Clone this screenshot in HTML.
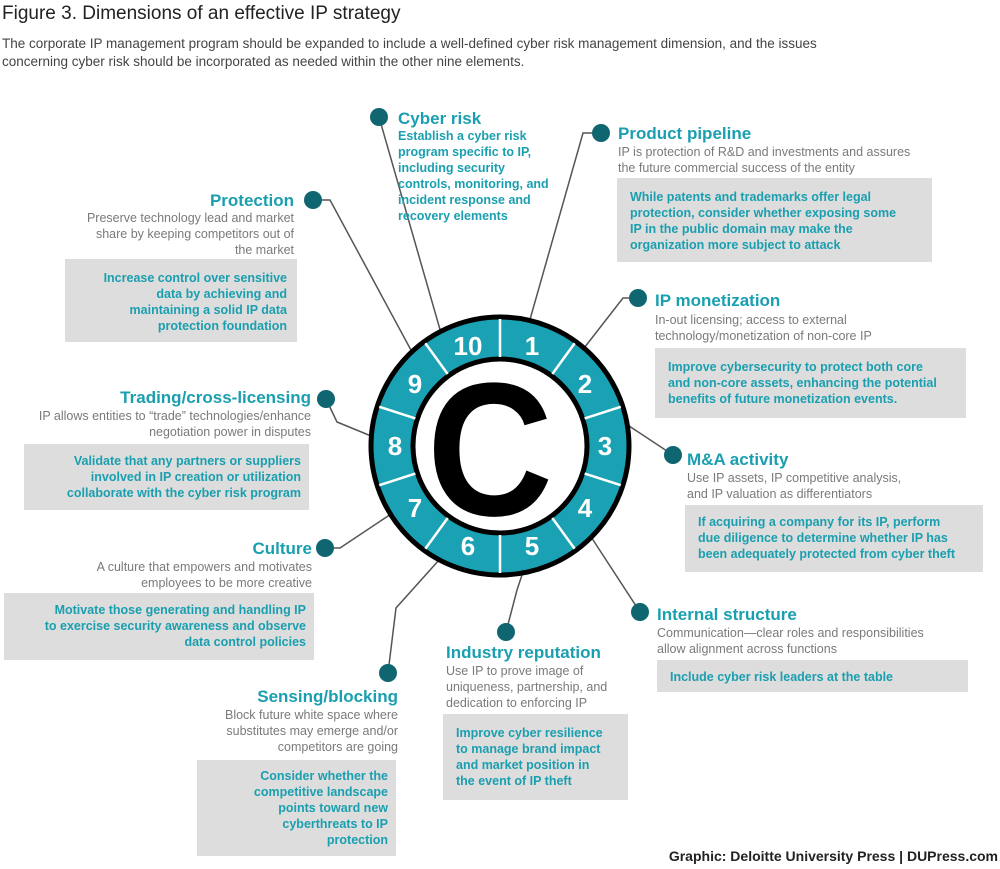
<!DOCTYPE html>
<html><head><meta charset="utf-8"><style>
html,body{margin:0;padding:0;background:#fff}
svg{display:block}
text{font-family:"Liberation Sans",Arial,sans-serif}
.t{font-size:17px;font-weight:bold;fill:#1a9fb0}
.g{font-size:12.5px;fill:#7a7a7a}
.b{font-size:12.5px;font-weight:bold;fill:#1a9fb0}
.box{fill:#dcdddc}
.ln{stroke:#555;stroke-width:1.5;fill:none}
.dot{fill:#0f6670}
.n{font-size:26px;font-weight:bold;fill:#fff;text-anchor:middle}
</style></head><body>
<svg width="1000" height="869" viewBox="0 0 1000 869" xmlns="http://www.w3.org/2000/svg">
<text x="2" y="19" style="font-size:19px;fill:#222">Figure 3. Dimensions of an effective IP strategy</text>
<text x="2" y="48" style="font-size:13.5px;fill:#444">The corporate IP management program should be expanded to include a well-defined cyber risk management dimension, and the issues</text>
<text x="2" y="66" style="font-size:13.5px;fill:#444">concerning cyber risk should be incorporated as needed within the other nine elements.</text>

<polyline class="ln" points="379,117 441,333"/>
<polyline class="ln" points="601,133 583,133 527,330"/>
<polyline class="ln" points="638,298 623,298 581,352"/>
<polyline class="ln" points="673,455 617,418"/>
<polyline class="ln" points="640,612 582,523"/>
<polyline class="ln" points="506,632 517,590 522,575"/>
<polyline class="ln" points="388,673 396,608 448,550"/>
<polyline class="ln" points="325,548 340,548 397,510"/>
<polyline class="ln" points="326,399 337,422 376,438"/>
<polyline class="ln" points="313,200 330,200 412,352"/>

<circle cx="500" cy="446" r="129" fill="#1aa1b3" stroke="#000" stroke-width="5"/>
<circle cx="500" cy="446" r="87" fill="#fff" stroke="#000" stroke-width="5"/>
<g stroke="#fff" stroke-width="2.5">
<line x1="500" y1="357" x2="500" y2="319"/>
<line x1="500" y1="357" x2="500" y2="319" transform="rotate(36 500 446)"/>
<line x1="500" y1="357" x2="500" y2="319" transform="rotate(72 500 446)"/>
<line x1="500" y1="357" x2="500" y2="319" transform="rotate(108 500 446)"/>
<line x1="500" y1="357" x2="500" y2="319" transform="rotate(144 500 446)"/>
<line x1="500" y1="357" x2="500" y2="319" transform="rotate(180 500 446)"/>
<line x1="500" y1="357" x2="500" y2="319" transform="rotate(216 500 446)"/>
<line x1="500" y1="357" x2="500" y2="319" transform="rotate(252 500 446)"/>
<line x1="500" y1="357" x2="500" y2="319" transform="rotate(288 500 446)"/>
<line x1="500" y1="357" x2="500" y2="319" transform="rotate(324 500 446)"/>
</g>
<g class="n">
<text x="532" y="355">1</text><text x="585" y="393">2</text><text x="605" y="455">3</text>
<text x="585" y="517">4</text><text x="532" y="555">5</text><text x="468" y="555">6</text>
<text x="415" y="517">7</text><text x="395" y="455">8</text><text x="415" y="393">9</text>
<text x="468" y="355">10</text>
</g>
<text x="0" y="0" text-anchor="middle" transform="translate(490 515) scale(0.92 1)" style="font-size:190px;font-weight:bold;fill:#000">C</text>

<circle class="dot" cx="379" cy="117" r="9"/><circle class="dot" cx="601" cy="133" r="9"/>
<circle class="dot" cx="638" cy="298" r="9"/><circle class="dot" cx="673" cy="455" r="9"/>
<circle class="dot" cx="640" cy="612" r="9"/><circle class="dot" cx="506" cy="632" r="9"/>
<circle class="dot" cx="388" cy="673" r="9"/><circle class="dot" cx="325" cy="548" r="9"/>
<circle class="dot" cx="326" cy="399" r="9"/><circle class="dot" cx="313" cy="200" r="9"/>

<text class="t" x="398" y="124">Cyber risk</text>
<text class="b" x="398" y="140">Establish a cyber risk</text>
<text class="b" x="398" y="156">program specific to IP,</text>
<text class="b" x="398" y="172">including security</text>
<text class="b" x="398" y="188">controls, monitoring, and</text>
<text class="b" x="398" y="204">incident response and</text>
<text class="b" x="398" y="220">recovery elements</text>

<text class="t" x="618" y="139">Product pipeline</text>
<text class="g" x="618" y="156">IP is protection of R&amp;D and investments and assures</text>
<text class="g" x="618" y="172">the future commercial success of the entity</text>
<rect class="box" x="617" y="178" width="315" height="84"/>
<text class="b" x="630" y="201">While patents and trademarks offer legal</text>
<text class="b" x="630" y="217">protection, consider whether exposing some</text>
<text class="b" x="630" y="233">IP in the public domain may make the</text>
<text class="b" x="630" y="249">organization more subject to attack</text>

<text class="t" x="655" y="306">IP monetization</text>
<text class="g" x="655" y="324">In-out licensing; access to external</text>
<text class="g" x="655" y="340">technology/monetization of non-core IP</text>
<rect class="box" x="655" y="348" width="311" height="70"/>
<text class="b" x="668" y="371">Improve cybersecurity to protect both core</text>
<text class="b" x="668" y="387">and non-core assets, enhancing the potential</text>
<text class="b" x="668" y="403">benefits of future monetization events.</text>

<text class="t" x="687" y="465">M&amp;A activity</text>
<text class="g" x="687" y="482">Use IP assets, IP competitive analysis,</text>
<text class="g" x="687" y="498">and IP valuation as differentiators</text>
<rect class="box" x="685" y="505" width="298" height="67"/>
<text class="b" x="698" y="526">If acquiring a company for its IP, perform</text>
<text class="b" x="698" y="542">due diligence to determine whether IP has</text>
<text class="b" x="698" y="558">been adequately protected from cyber theft</text>

<text class="t" x="657" y="620">Internal structure</text>
<text class="g" x="657" y="637">Communication—clear roles and responsibilities</text>
<text class="g" x="657" y="653">allow alignment across functions</text>
<rect class="box" x="657" y="660" width="311" height="32"/>
<text class="b" x="670" y="681">Include cyber risk leaders at the table</text>

<text class="t" x="446" y="658">Industry reputation</text>
<text class="g" x="446" y="675">Use IP to prove image of</text>
<text class="g" x="446" y="691">uniqueness, partnership, and</text>
<text class="g" x="446" y="707">dedication to enforcing IP</text>
<rect class="box" x="443" y="714" width="185" height="86"/>
<text class="b" x="456" y="737">Improve cyber resilience</text>
<text class="b" x="456" y="753">to manage brand impact</text>
<text class="b" x="456" y="769">and market position in</text>
<text class="b" x="456" y="785">the event of IP theft</text>

<g text-anchor="end">
<text class="t" x="398" y="702">Sensing/blocking</text>
<text class="g" x="398" y="719">Block future white space where</text>
<text class="g" x="398" y="735">substitutes may emerge and/or</text>
<text class="g" x="398" y="751">competitors are going</text>
<rect class="box" x="197" y="760" width="199" height="96"/>
<text class="b" x="388" y="780">Consider whether the</text>
<text class="b" x="388" y="796">competitive landscape</text>
<text class="b" x="388" y="812">points toward new</text>
<text class="b" x="388" y="828">cyberthreats to IP</text>
<text class="b" x="388" y="844">protection</text>

<text class="t" x="312" y="554">Culture</text>
<text class="g" x="312" y="571">A culture that empowers and motivates</text>
<text class="g" x="312" y="587">employees to be more creative</text>
<rect class="box" x="4" y="593" width="310" height="67"/>
<text class="b" x="306" y="614">Motivate those generating and handling IP</text>
<text class="b" x="306" y="630">to exercise security awareness and observe</text>
<text class="b" x="306" y="646">data control policies</text>

<text class="t" x="311" y="403">Trading/cross-licensing</text>
<text class="g" x="311" y="420">IP allows entities to “trade” technologies/enhance</text>
<text class="g" x="311" y="436">negotiation power in disputes</text>
<rect class="box" x="24" y="444" width="285" height="66"/>
<text class="b" x="301" y="465">Validate that any partners or suppliers</text>
<text class="b" x="301" y="481">involved in IP creation or utilization</text>
<text class="b" x="301" y="497">collaborate with the cyber risk program</text>

<text class="t" x="294" y="206">Protection</text>
<text class="g" x="294" y="222">Preserve technology lead and market</text>
<text class="g" x="294" y="238">share by keeping competitors out of</text>
<text class="g" x="294" y="254">the market</text>
<rect class="box" x="65" y="259" width="232" height="83"/>
<text class="b" x="287" y="282">Increase control over sensitive</text>
<text class="b" x="287" y="298">data by achieving and</text>
<text class="b" x="287" y="314">maintaining a solid IP data</text>
<text class="b" x="287" y="330">protection foundation</text>

<text x="998" y="861" style="font-size:14px;font-weight:bold;fill:#222">Graphic: Deloitte University Press  |  DUPress.com</text>
</g>
</svg>
</body></html>
